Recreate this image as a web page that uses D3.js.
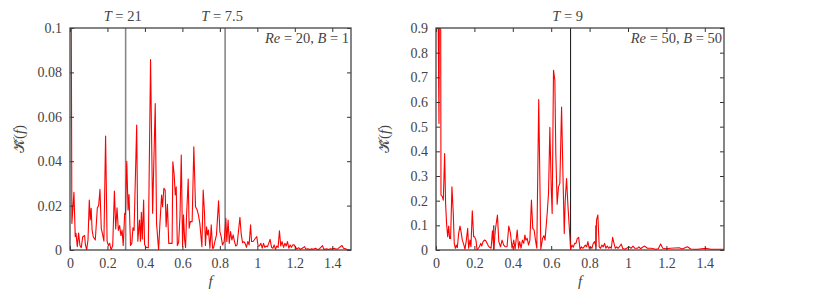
<!DOCTYPE html>
<html><head><meta charset="utf-8">
<script src="https://cdn.jsdelivr.net/npm/d3@7"></script>
<style>
html,body{margin:0;padding:0;background:#fff;}
svg{display:block;}
svg text{font-family:"Liberation Serif",serif !important;fill:#444;}
</style></head><body>
<svg id="c" width="830" height="291"></svg>
<script>
// ---------- data ----------
const fLeft = [0.000,0.010,0.021,0.028,0.032,0.039,0.046,0.053,0.060,0.068,0.078,0.082,0.089,0.096,0.103,0.108,0.113,0.118,0.124,0.135,0.146,0.153,0.160,0.167,0.174,0.181,0.190,0.198,0.205,0.212,0.219,0.228,0.237,0.244,0.251,0.258,0.265,0.272,0.278,0.284,0.292,0.296,0.303,0.310,0.315,0.323,0.330,0.336,0.342,0.356,0.362,0.371,0.376,0.381,0.386,0.393,0.398,0.406,0.418,0.430,0.441,0.455,0.462,0.473,0.480,0.489,0.494,0.501,0.508,0.513,0.520,0.527,0.537,0.545,0.549,0.556,0.562,0.567,0.573,0.580,0.587,0.594,0.601,0.606,0.612,0.617,0.622,0.631,0.636,0.642,0.652,0.661,0.670,0.679,0.686,0.693,0.704,0.711,0.718,0.723,0.729,0.734,0.739,0.747,0.754,0.761,0.766,0.773,0.782,0.793,0.800,0.807,0.814,0.823,0.832,0.837,0.844,0.850,0.857,0.864,0.871,0.878,0.885,0.892,0.900,0.907,0.914,0.921,0.928,0.935,0.942,0.949,0.956,0.964,0.969,0.976,0.983,0.990,0.997,1.004,1.011,1.019,1.026,1.033,1.040,1.047,1.054,1.061,1.068,1.076,1.083,1.090,1.097,1.104,1.111,1.118,1.125,1.132,1.140,1.147,1.154,1.161,1.168,1.175,1.182,1.189,1.196,1.210,1.220,1.230,1.240,1.252,1.260,1.270,1.280,1.290,1.300,1.310,1.320,1.330,1.348,1.355,1.370,1.380,1.390,1.400,1.410,1.420,1.430,1.452,1.460,1.470,1.480,1.490,1.500];
const kLeft = [0.300,0.012,0.026,0.006,0.0075,0.0015,0.0076,0.002,0.001,0.006,0.0065,0.0025,0.000,0.0045,0.0225,0.0135,0.0188,0.009,0.006,0.0045,0.019,0.020,0.0273,0.0096,0.007,0.004,0.0513,0.004,0.002,0.003,0.000,0.002,0.0266,0.0095,0.019,0.0088,0.011,0.0065,0.009,0.002,0.0165,0.016,0.040,0.018,0.025,0.002,0.003,0.010,0.0088,0.0563,0.004,0.0135,0.004,0.017,0.005,0.0225,0.0025,0.0012,0.001,0.0858,0.0166,0.066,0.012,0.000,0.012,0.0248,0.0195,0.0278,0.027,0.0105,0.0206,0.003,0.003,0.003,0.0397,0.034,0.0248,0.0285,0.002,0.0035,0.015,0.0428,0.0015,0.0158,0.0045,0.001,0.015,0.032,0.0098,0.0128,0.0128,0.0465,0.0195,0.018,0.0156,0.012,0.0015,0.027,0.0165,0.002,0.0105,0.0068,0.009,0.0008,0.0113,0.0008,0.0008,0.0037,0.0068,0.0222,0.0083,0.006,0.0023,0.0038,0.0143,0.0038,0.0135,0.003,0.0083,0.0045,0.0068,0.0038,0.0018,0.0023,0.009,0.0147,0.0072,0.0033,0.0038,0.003,0.0012,0.0038,0.0023,0.0113,0.0038,0.0038,0.0045,0.0053,0.006,0.0018,0.0018,0.003,0.0008,0.003,0.0012,0.0018,0.0015,0.003,0.0048,0.0012,0.0008,0.0023,0.0003,0.0018,0.0012,0.0087,0.0018,0.0038,0.0012,0.003,0.0018,0.0038,0.0008,0.0023,0.0012,0.0023,0.0023,0.0005,0.001,0.0003,0.0008,0.0015,0.0003,0.0006,0.0002,0.0005,0.0003,0.0008,0.0002,0.0004,0.002,0.0003,0.0005,0.0002,0.0006,0.0004,0.0008,0.0003,0.0006,0.002,0.0008,0.0005,0.0002,0.0001,0.0001];

const fRight = [0.000,0.0155,0.022,0.026,0.033,0.038,0.045,0.050,0.055,0.061,0.066,0.071,0.076,0.083,0.090,0.095,0.101,0.106,0.111,0.118,0.125,0.132,0.137,0.144,0.151,0.158,0.165,0.170,0.177,0.182,0.189,0.196,0.201,0.208,0.214,0.221,0.226,0.233,0.238,0.245,0.252,0.259,0.266,0.273,0.280,0.287,0.294,0.301,0.309,0.320,0.327,0.336,0.344,0.353,0.361,0.370,0.379,0.388,0.396,0.405,0.412,0.423,0.430,0.436,0.443,0.450,0.457,0.463,0.468,0.475,0.482,0.489,0.497,0.504,0.511,0.518,0.525,0.535,0.546,0.555,0.562,0.568,0.579,0.586,0.593,0.600,0.605,0.612,0.619,0.624,0.631,0.638,0.645,0.654,0.661,0.668,0.673,0.680,0.687,0.694,0.701,0.708,0.715,0.722,0.729,0.736,0.743,0.750,0.757,0.764,0.771,0.778,0.785,0.791,0.798,0.805,0.812,0.819,0.826,0.833,0.836,0.843,0.850,0.857,0.864,0.871,0.878,0.885,0.892,0.899,0.906,0.913,0.920,0.927,0.934,0.941,0.948,0.958,0.965,0.972,0.982,0.993,1.005,1.016,1.026,1.036,1.049,1.057,1.066,1.075,1.087,1.101,1.122,1.144,1.158,1.170,1.181,1.196,1.222,1.243,1.266,1.283,1.309,1.327,1.362,1.405,1.431,1.466,1.500];
const kRight = [2.000,0.513,2.000,0.223,0.216,0.202,0.391,0.189,0.108,0.054,0.097,0.047,0.047,0.256,0.148,0.027,0.007,0.020,0.009,0.067,0.097,0.067,0.040,0.024,0.003,0.040,0.088,0.007,0.040,0.013,0.159,0.054,0.054,0.040,0.000,0.007,0.013,0.027,0.016,0.034,0.040,0.038,0.027,0.016,0.011,0.007,0.078,0.000,0.081,0.142,0.034,0.013,0.040,0.020,0.013,0.013,0.097,0.067,0.007,0.040,0.003,0.081,0.007,0.034,0.007,0.040,0.027,0.061,0.040,0.047,0.020,0.040,0.202,0.088,0.081,0.040,0.007,0.610,0.003,0.047,0.058,0.040,0.148,0.229,0.497,0.256,0.148,0.729,0.688,0.391,0.186,0.256,0.270,0.580,0.310,0.067,0.202,0.290,0.182,0.094,0.003,0.020,0.011,0.027,0.027,0.047,0.051,0.003,0.013,0.007,0.013,0.020,0.013,0.034,0.007,0.013,0.007,0.027,0.034,0.013,0.121,0.142,0.013,0.007,0.020,0.013,0.027,0.007,0.016,0.007,0.013,0.007,0.051,0.027,0.007,0.013,0.007,0.016,0.024,0.007,0.003,0.007,0.013,0.007,0.016,0.007,0.007,0.013,0.005,0.011,0.016,0.007,0.007,0.003,0.005,0.024,0.007,0.005,0.007,0.008,0.009,0.004,0.013,0.004,0.003,0.007,0.003,0.003,0.003];

const xTicks = [0,0.2,0.4,0.6,0.8,1,1.2,1.4];
const yTicksLeft = [0,0.02,0.04,0.06,0.08,0.1];
const yTicksRight = [0,0.1,0.2,0.3,0.4,0.5,0.6,0.7,0.8,0.9];

const markersLeft = [0.297, 0.828];
const markerLabelsLeft = ["21", "7.5"];
const markersRight = [0.701];
const markerLabelsRight = ["9"];
const shortMarksRight = [0.301, 0.833];
const shortMarkHeight = 0.1;

const paramsLeft = {re: "20", b: "1"};
const paramsRight = {re: "50", b: "50"};

// ---------- drawing ----------
const svg = d3.select("#c");
const FONT = "Liberation Serif, serif";

function panel(opt){
  const {x0,x1,y0,y1,fv,kv,ymax,yTicks,yFmt,markers,mLabels,mColor,mWidth,shortMarks,params,ylabX,id} = opt;
  const x = d3.scaleLinear().domain([0,1.5]).range([x0,x1]);
  const y = d3.scaleLinear().domain([0,ymax]).range([y1,y0]);
  const g = svg.append("g").attr("font-family",FONT);
  g.append("clipPath").attr("id","clip"+id).append("rect")
    .attr("x",x0).attr("y",y0).attr("width",x1-x0).attr("height",y1-y0);

  // markers
  markers.forEach((m,i)=>{
    g.append("line").attr("x1",x(m)).attr("x2",x(m)).attr("y1",y0).attr("y2",y1)
      .attr("stroke",mColor).attr("stroke-width",mWidth);
    const t = g.append("text").attr("x",x(m)-3).attr("y",21).attr("text-anchor","middle")
      .style("font-size","14.5px");
    t.append("tspan").style("font-style","italic").text("T");
    t.append("tspan").text(" = " + mLabels[i]);
  });
  (shortMarks||[]).forEach(m=>{
    g.append("line").attr("x1",x(m)).attr("x2",x(m)).attr("y1",y(0)).attr("y2",y(shortMarkHeight))
      .attr("stroke","#111").attr("stroke-width",1);
  });

  // data line
  const line = d3.line().x((d,i)=>x(fv[i])).y((d,i)=>y(kv[i]));
  g.append("path").datum(kv).attr("d",line).attr("fill","none")
    .attr("stroke","#ff0000").attr("stroke-width",1.1).attr("stroke-linejoin","round")
    .attr("clip-path","url(#clip"+id+")");

  // axes (ticks inward on all sides)
  const tl = 4;
  const styleTxt = a=>a.selectAll("text").attr("fill","#444").style("font-size","14px").attr("font-family",FONT);
  g.append("g").attr("transform",`translate(0,${y1})`)
    .call(d3.axisBottom(x).tickValues(xTicks).tickSize(-tl).tickPadding(8).tickFormat(d3.format("~g")))
    .call(a=>{a.select(".domain").remove(); a.selectAll("line").attr("stroke","#333"); styleTxt(a);});
  g.append("g").attr("transform",`translate(0,${y0})`)
    .call(d3.axisTop(x).tickValues(xTicks).tickSize(-tl).tickFormat(""))
    .call(a=>{a.select(".domain").remove(); a.selectAll("line").attr("stroke","#333");});
  g.append("g").attr("transform",`translate(${x0},0)`)
    .call(d3.axisLeft(y).tickValues(yTicks).tickSize(-tl).tickPadding(8).tickFormat(yFmt))
    .call(a=>{a.select(".domain").remove(); a.selectAll("line").attr("stroke","#333"); styleTxt(a);});
  g.append("g").attr("transform",`translate(${x1},0)`)
    .call(d3.axisRight(y).tickValues(yTicks).tickSize(-tl).tickFormat(""))
    .call(a=>{a.select(".domain").remove(); a.selectAll("line").attr("stroke","#333");});
  g.selectAll(".tick text").attr("font-family",FONT);

  g.append("rect").attr("x",x0).attr("y",y0).attr("width",x1-x0).attr("height",y1-y0)
    .attr("fill","none").attr("stroke","#444").attr("stroke-width",1.3);

  // params text
  const pt = g.append("text").attr("x",x1-2).attr("y",43).attr("text-anchor","end").style("font-size","14.5px");
  pt.append("tspan").style("font-style","italic").text("Re");
  pt.append("tspan").text(" = " + params.re + ", ");
  pt.append("tspan").style("font-style","italic").text("B");
  pt.append("tspan").text(" = " + params.b);

  // axis labels
  g.append("text").attr("x",(x0+x1)/2).attr("y",286).attr("text-anchor","middle")
    .style("font-size","15px").style("font-style","italic").text("f");
  const yl = g.append("text").attr("transform",`translate(${ylabX},${(y0+y1)/2}) rotate(-90)`)
    .attr("text-anchor","middle").style("font-size","15px");
  yl.append("tspan").text("\u{1D4A6}\u0302");
  yl.append("tspan").text("(");
  yl.append("tspan").style("font-style","italic").text("f");
  yl.append("tspan").text(")");
}

panel({id:"L",x0:70,x1:351,y0:28,y1:250,fv:fLeft,kv:kLeft,ymax:0.1,yTicks:yTicksLeft,
  yFmt:d3.format("~g"),markers:markersLeft,mLabels:markerLabelsLeft,mColor:"#888",mWidth:1.6,
  shortMarks:null,params:paramsLeft,ylabX:24});
panel({id:"R",x0:436,x1:724,y0:28,y1:250,fv:fRight,kv:kRight,ymax:0.9,yTicks:yTicksRight,
  yFmt:d3.format("~g"),markers:markersRight,mLabels:markerLabelsRight,mColor:"#111",mWidth:1,
  shortMarks:shortMarksRight,params:paramsRight,ylabX:389});
</script></body></html>
